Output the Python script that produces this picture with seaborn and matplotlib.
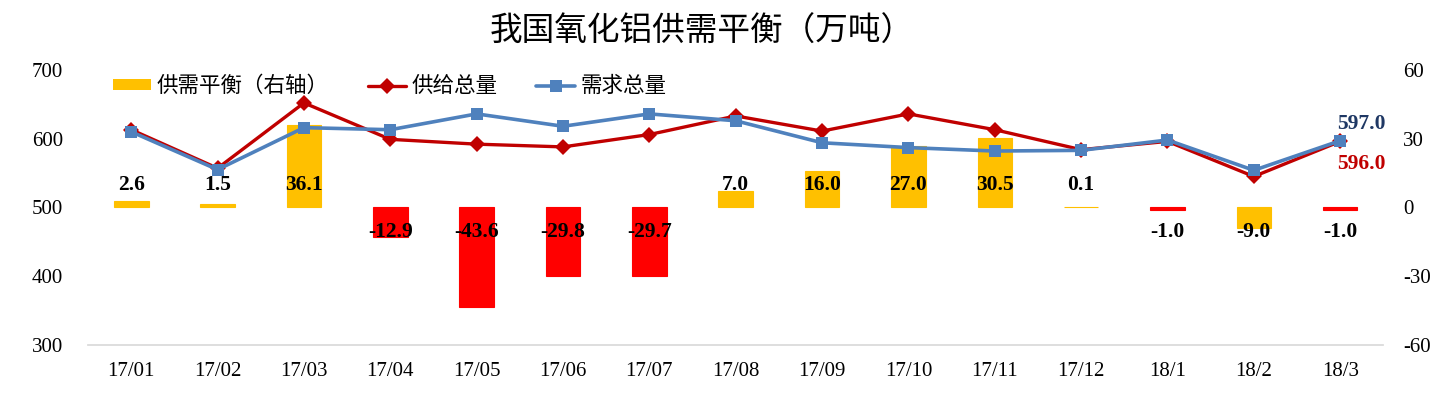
import numpy as np
import pandas as pd
import matplotlib
matplotlib.use("Agg")
import matplotlib.pyplot as plt
import seaborn as sns
from matplotlib.patches import Patch
from matplotlib.lines import Line2D

# ── data ─────────────────────────────────────────────────────────────────────
months  = ["17/01", "17/02", "17/03", "17/04", "17/05", "17/06", "17/07", "17/08",
           "17/09", "17/10", "17/11", "17/12", "18/1", "18/2", "18/3"]
balance = [2.6, 1.5, 36.1, -12.9, -43.6, -29.8, -29.7, 7.0,
           16.0, 27.0, 30.5, 0.1, -1.0, -9.0, -1.0]
supply  = [613, 557, 652, 599, 592, 588, 606, 633,
           611, 636, 613, 584, 596, 545, 596]
demand  = [610, 555, 616, 613, 636, 618, 636, 626,
           594, 587, 582, 583, 598, 554, 597]

YELLOW, RED_BAR = "#FFC000", "#FF0000"
RED_LINE, BLUE_LINE = "#C00000", "#4F81BD"
bar_colors = [YELLOW, YELLOW, YELLOW, RED_BAR, RED_BAR, RED_BAR, RED_BAR, YELLOW,
              YELLOW, YELLOW, YELLOW, YELLOW, RED_BAR, YELLOW, RED_BAR]

sns.set_theme(style="white")
plt.rcParams["font.family"] = ["Liberation Serif", "Noto Sans CJK SC", "DejaVu Sans"]
plt.rcParams["axes.unicode_minus"] = False
plt.rcParams["text.color"] = "black"
plt.rcParams["xtick.color"] = "black"
plt.rcParams["ytick.color"] = "black"
CJK = ["Noto Sans CJK SC", "DejaVu Sans"]

df = pd.DataFrame({"month": months, "balance": balance,
                   "supply": supply, "demand": demand})

fig = plt.figure(figsize=(14.44, 3.97), dpi=100)
ax = fig.add_axes([0.061, 0.131, 0.897, 0.693])
ax2 = ax.twinx()

# bars on the right axis
sns.barplot(data=df, x="month", y="balance", hue="month", palette=bar_colors,
            width=0.4, legend=False, ax=ax2, saturation=1)
for p, c in zip(ax2.patches, bar_colors):
    p.set_edgecolor(c)
    p.set_linewidth(0.8)
ax2.set_ylim(-60, 60)
ax2.set_yticks([-60, -30, 0, 30, 60])

for i, v in enumerate(balance):
    ax2.text(i, 9.6 if v >= 0 else -10.6, f"{v:.1f}", ha="center", va="center",
             fontsize=15.5, fontweight="bold", color="black")

# lines on the left axis, drawn above the bars
ax.set_zorder(ax2.get_zorder() + 1)
ax.patch.set_visible(False)
sns.lineplot(data=df, x="month", y="supply", color=RED_LINE, lw=2.4,
             marker="D", markersize=8, markeredgewidth=0, ax=ax)
sns.lineplot(data=df, x="month", y="demand", color=BLUE_LINE, lw=2.6,
             marker="s", markersize=9, markeredgewidth=0, ax=ax)
ax.set_ylim(300, 700)
ax.set_yticks([300, 400, 500, 600, 700])
ax.set_xlim(-0.5, len(months) - 0.5)

ax.annotate(f"{demand[-1]:.1f}", (len(months) - 1, demand[-1]), xytext=(-2, 12),
            textcoords="offset points", ha="left", va="center",
            fontsize=15.5, fontweight="bold", color="#1F3864")
ax.annotate(f"{supply[-1]:.1f}", (len(months) - 1, supply[-1]), xytext=(-2, -16),
            textcoords="offset points", ha="left", va="center",
            fontsize=15.5, fontweight="bold", color=RED_LINE)

for a in (ax, ax2):
    a.set_xlabel("")
    a.set_ylabel("")
    for s in a.spines.values():
        s.set_visible(False)
    a.grid(False)
ax.spines["bottom"].set_visible(True)
ax.spines["bottom"].set_color("#D9D9D9")
ax.tick_params(axis="y", length=0, pad=18, labelsize=15)
ax.tick_params(axis="x", length=0, pad=12, labelsize=15)
ax2.tick_params(axis="y", length=0, pad=14, labelsize=15)
ax2.tick_params(axis="x", length=0)

handles = [Patch(facecolor=YELLOW, edgecolor="none"),
           Line2D([], [], color=RED_LINE, lw=2.4, marker="D", markersize=8, markeredgewidth=0),
           Line2D([], [], color=BLUE_LINE, lw=2.6, marker="s", markersize=9, markeredgewidth=0)]
leg = ax.legend(handles, ["供需平衡（右轴）", "供给总量", "需求总量"], ncol=3,
                loc="center left", bbox_to_anchor=(0.004, 0.94), frameon=False,
                prop={"family": CJK, "size": 15.5}, handlelength=1.8,
                handleheight=0.45, columnspacing=1.8, handletextpad=0.25)

fig.suptitle("我国氧化铝供需平衡（万吨）", x=0.486, y=0.92, fontsize=23.5,
             family=CJK, va="center", color="black")

fig.savefig("out.png", dpi=100)
